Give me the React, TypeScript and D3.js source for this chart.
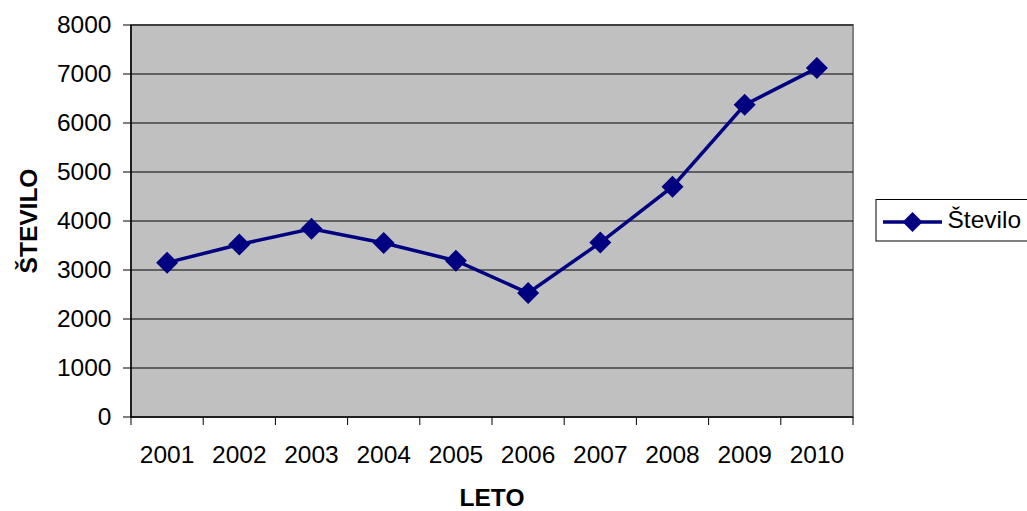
import React from "react";
import * as d3 from "d3";

const years = ["2001", "2002", "2003", "2004", "2005", "2006", "2007", "2008", "2009", "2010"];
const values = [3150, 3520, 3840, 3550, 3190, 2530, 3560, 4700, 6370, 7120];
const yTicks = [0, 1000, 2000, 3000, 4000, 5000, 6000, 7000, 8000];
const seriesName = "Število";

const W = 1027, H = 511;
const left = 131, right = 853, top = 25, bottom = 417;
const FONT = "'Liberation Sans', Arial, sans-serif";
const NAVY = "#000080";
const FS = 24.5;

function diamond(cx: number, cy: number, r: number) {
  return `M${cx},${cy - r}L${cx + r},${cy}L${cx},${cy + r}L${cx - r},${cy}Z`;
}

export default function App() {
  const x = d3.scaleBand<string>().domain(years).range([left, right]);
  const y = d3.scaleLinear().domain([0, 8000]).range([bottom, top]);
  const line = d3
    .line<number>()
    .x((_, i) => (x(years[i]) as number) + x.bandwidth() / 2)
    .y((d) => y(d));
  const tickXs = years.map((yr) => x(yr) as number).concat([right]);

  return (
    <svg width={W} height={H} style={{ position: "absolute", left: 0, top: 0, background: "#fff" }} fontFamily={FONT}>
      <rect x={left} y={top} width={right - left} height={bottom - top} fill="#c0c0c0" stroke="#808080" strokeWidth={2} />
      {yTicks.slice(1).map((t) => (
        <line key={t} x1={left} x2={right} y1={y(t)} y2={y(t)} stroke="#000" strokeWidth={1} />
      ))}
      {/* y axis */}
      <line x1={left} x2={left} y1={top} y2={bottom} stroke="#000" strokeWidth={1.5} />
      {yTicks.map((t) => (
        <g key={t}>
          <line x1={left - 8} x2={left} y1={y(t)} y2={y(t)} stroke="#000" strokeWidth={1} />
          <text x={111.5} y={y(t) + 7.5} textAnchor="end" fontSize={FS} fill="#000">
            {t}
          </text>
        </g>
      ))}
      {/* x axis */}
      <line x1={left} x2={right} y1={bottom} y2={bottom} stroke="#000" strokeWidth={1.5} />
      {tickXs.map((tx, i) => (
        <line key={i} x1={tx} x2={tx} y1={bottom} y2={bottom + 8} stroke="#000" strokeWidth={1} />
      ))}
      {years.map((yr) => (
        <text key={yr} x={(x(yr) as number) + x.bandwidth() / 2} y={463} textAnchor="middle" fontSize={FS} fill="#000">
          {yr}
        </text>
      ))}
      <text x={(left + right) / 2} y={506} textAnchor="middle" fontSize={FS} fontWeight="bold" fill="#000">
        LETO
      </text>
      <text transform={`translate(36.5,221) rotate(-90)`} textAnchor="middle" fontSize={FS} fontWeight="bold" fill="#000">
        ŠTEVILO
      </text>
      {/* series */}
      <path d={line(values) || ""} fill="none" stroke={NAVY} strokeWidth={3.5} />
      {values.map((v, i) => (
        <path key={i} d={diamond((x(years[i]) as number) + x.bandwidth() / 2, y(v), 11)} fill={NAVY} />
      ))}
      {/* legend */}
      <rect x={876} y={199.5} width={160} height={41.5} fill="#fff" stroke="#000" strokeWidth={1} />
      <line x1={883} x2={942} y1={222} y2={222} stroke={NAVY} strokeWidth={3.5} />
      <path d={diamond(912.5, 222, 10)} fill={NAVY} />
      <text x={947.5} y={228} fontSize={FS} fill="#000">
        {seriesName}
      </text>
    </svg>
  );
}
